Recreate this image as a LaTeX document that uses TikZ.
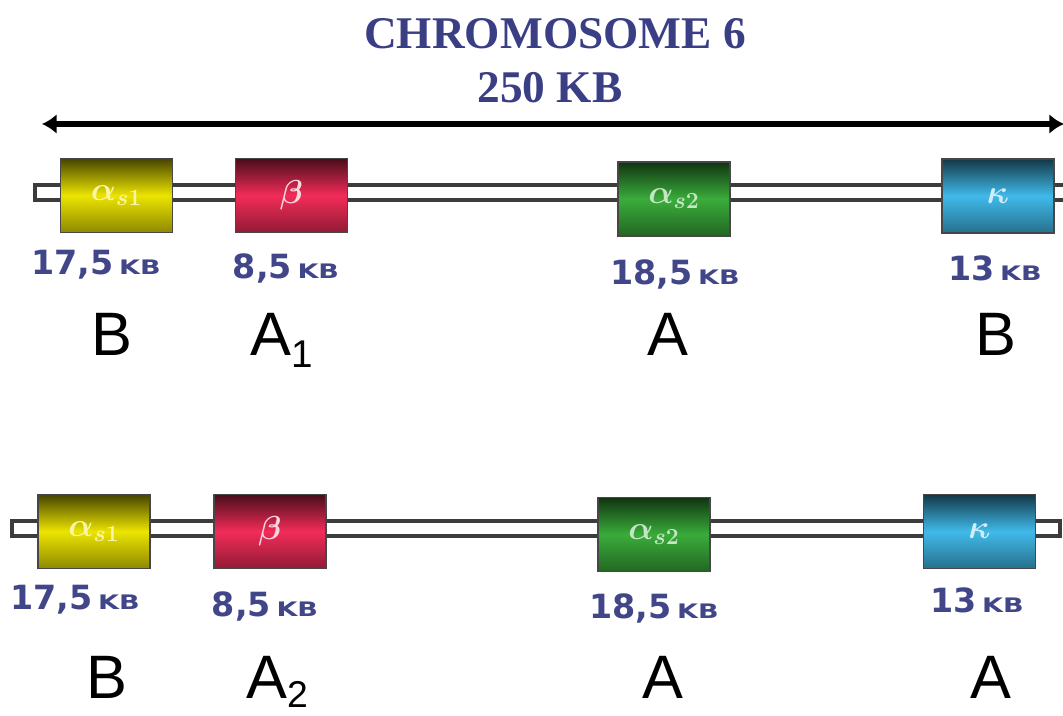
\documentclass[tikz,border=0pt]{standalone}
\usepackage{graphicx}
\usepackage{fontspec}
\setmainfont{Liberation Sans}
\newfontfamily\titlefont{Liberation Serif}
\newfontfamily\kbfont{DejaVu Sans}
\usetikzlibrary{arrows.meta}
\definecolor{titleblue}{RGB}{58,62,132}
\definecolor{kbblue}{RGB}{64,70,136}
\definecolor{gyellow}{RGB}{236,228,0}
\definecolor{gred}{RGB}{242,44,88}
\definecolor{ggreen}{RGB}{58,172,58}
\definecolor{gblue}{RGB}{64,186,234}
\definecolor{rodline}{RGB}{60,60,60}
\newcommand{\kblab}[1]{\kbfont\bfseries\fontsize{25}{28}\selectfont #1\,\scalebox{1.35}[1]{\fontsize{15}{18}\selectfont KB}}
\newcommand{\subdig}[1]{\raisebox{-0.2em}{\fontsize{29}{31}\selectfont #1}}
\begin{document}
\begin{tikzpicture}[x=0.75pt,y=-0.75pt,
  genebox/.style={draw=black!72, line width=1.3pt, minimum width=84pt, minimum height=55.5pt, inner sep=0pt, font=\fontsize{23}{26}\selectfont\boldmath},
  ybox/.style={genebox, top color=black!70!gyellow, bottom color=black!40!gyellow, middle color=gyellow, text=white!65!gyellow},
  rbox/.style={genebox, top color=black!70!gred, bottom color=black!40!gred, middle color=gred, text=white!80!gred},
  gbox/.style={genebox, top color=black!70!ggreen, bottom color=black!40!ggreen, middle color=ggreen, text=white!70!ggreen},
  bbox/.style={genebox, top color=black!70!gblue, bottom color=black!40!gblue, middle color=gblue, text=white!75!gblue},
  kb/.style={text=kbblue, inner sep=0pt},
  big/.style={font=\fontsize{46}{50}\selectfont, text=black, inner sep=0pt, anchor=base},
  rod/.style={draw=rodline, line width=3pt, fill=white}
]
\useasboundingbox (0,0) rectangle (1063,716);
% title
\node[font=\titlefont\bfseries\fontsize{34}{38}\selectfont, text=titleblue] (title) at (555,34) {CHROMOSOME 6};
\node[font=\titlefont\bfseries\fontsize{34}{38}\selectfont, text=titleblue] (size) at (550,88) {250 KB};
% arrow
\coordinate (aL) at (42,124);
\coordinate (aR) at (1064,124);
\draw[line width=4.5pt, {Latex[length=11pt,width=15pt]}-{Latex[length=11pt,width=15pt]}] (aL) -- (aR);
% top chromosome
\draw[rod] (35,185) rectangle (1075,200);
\node[ybox] (t1) at (116.5,195.5) {$\alpha_{s1}$};
\node[rbox] (t2) at (291.5,195.5) {$\beta$};
\node[gbox] (t3) at (674,199) {$\alpha_{s2}$};
\node[bbox] (t4) at (998,196) {$\kappa$};
\node[kb] (k1) at (96,265) {\kblab{17,5}};
\node[kb] (k2) at (286,268) {\kblab{8,5}};
\node[kb] (k3) at (675,274) {\kblab{18,5}};
\node[kb] (k4) at (995,268) {\kblab{13}};
\node[big] (L1) at (112,355) {B};
\node[big, anchor=base west] (L2) at (250,355) {A\subdig{1}};
\node[big] (L3) at (668,355) {A};
\node[big] (L4) at (996,355) {B};
% bottom chromosome
\draw[rod] (12,521) rectangle (1060,536);
\node[ybox] (b1) at (94,531.5) {$\alpha_{s1}$};
\node[rbox] (b2) at (270,531.5) {$\beta$};
\node[gbox] (b3) at (654,534.5) {$\alpha_{s2}$};
\node[bbox] (b4) at (979.5,531.5) {$\kappa$};
\node[kb] (m1) at (75,600) {\kblab{17,5}};
\node[kb] (m2) at (265,606) {\kblab{8,5}};
\node[kb] (m3) at (654,608) {\kblab{18,5}};
\node[kb] (m4) at (977,600) {\kblab{13}};
\node[big] (N1) at (107,698) {B};
\node[big, anchor=base west] (N2) at (246,698) {A\raisebox{-0.16em}{\fontsize{28}{30}\selectfont 2}};
\node[big] (N3) at (663,698) {A};
\node[big] (N4) at (991,698) {A};
\end{tikzpicture}
\end{document}
